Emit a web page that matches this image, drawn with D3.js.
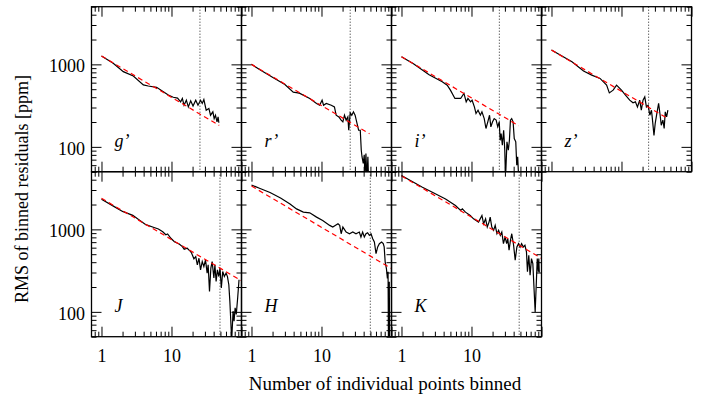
<!DOCTYPE html>
<meta charset="utf-8">
<body style="margin:0;background:#fff">
<svg id="chart" width="712" height="401"></svg>
<script src="https://cdn.jsdelivr.net/npm/d3@7/dist/d3.min.js"></script>
<script>

// panel labels (filters), top row then bottom row
var bandLabels = ["g’", "r’", "i’", "z’", "J", "H", "K"]

// [points binned, rms of binned residuals in ppm]
var gRms = [[1,1262],[1.47,1031],[2.05,816],[2.85,723],[3.96,563],[4.66,547],[6.13,527],[7.65,467],[9,425],[10.6,399],
  [12.2,390],[13.5,351],[14.3,386],[15.1,320],[16.3,368],[17.4,305],[18.8,361],[20.3,312],[22.2,368],[23.9,320],
  [26,368],[27.5,336],[29,375],[31.3,278],[34.2,292],[36.1,242],[39,266],[40.7,220],[42.5,242],[44.7,201],[46.3,231],[47.5,196]]
var rRms = [[1,1000],[1.32,860],[2.05,690],[3,570],[3.95,460],[4.6,452],[4.91,445],[6.8,386],[8.5,336],[9.4,320],
  [10.2,368],[10.7,320],[11.7,336],[13.8,320],[15.3,305],[16.2,242],[17.7,231],[19.1,211],[20.2,201],[21.3,242],
  [22.5,211],[23.8,231],[24.5,159],[25.7,258],[27.1,242],[28.6,266],[30.2,242],[31.8,201],[33.9,159],[35.8,159],
  [37,91],[37.9,76],[39.5,63],[40.8,80],[41.8,40],[43.1,83],[44.6,40],[46,76],[47,40]]
var iRms = [[1,1240],[1.5,1010],[2.48,750],[3.82,615],[4.5,560],[5,487],[5.8,386],[7,386],[7.8,445],[8.4,351],
  [8.9,386],[9.7,351],[10.2,368],[11,305],[11.6,254],[12.4,278],[13.4,242],[14.1,266],[15.2,220],[16.1,167],
  [17.1,201],[18.1,242],[18.9,175],[20,201],[21.1,220],[22.5,211],[23.7,175],[24.9,201],[25.7,120],[26.5,145],
  [27.6,105],[28.8,159],[29.9,91],[30.6,40],[32.1,115],[33.6,91],[34.8,120],[36,211],[37.5,220],[39.3,201],
  [40.8,126],[42.9,115],[44.3,60],[45.7,76],[47.3,40]]
var zRms = [[1,1492],[1.96,1076],[2.87,830],[3.76,741],[4.94,676],[6.13,560],[6.7,451],[7.6,487],[8.5,560],[10,487],
  [11.4,424],[13.1,368],[14.6,342],[15.8,351],[16.9,305],[18.2,368],[19.2,278],[20.3,368],[21.5,404],[22.7,305],
  [24,320],[25.4,242],[26.8,278],[27.6,220],[29.1,138],[30.3,192],[32,254],[33.9,336],[35.4,254],[37,183],
  [39,211],[40.7,167],[42.2,266],[44.1,231],[46,278]]
var jRms = [[1,2320],[1.5,1900],[2,1650],[2.8,1480],[3.5,1290],[4.3,1140],[5.5,1060],[6.5,1010],[7.5,935],[8.3,860],
  [8.8,880],[9.8,780],[11,709],[12.9,665],[14.3,617],[15.2,575],[16.8,590],[17.8,560],[18.8,537],[19.4,514],
  [20.9,440],[22.2,468],[23.4,372],[24.7,447],[26,323],[27.5,407],[29,354],[30.6,427],[32.3,295],[33.4,372],
  [34.9,177],[36.5,339],[38.1,407],[40.3,257],[41.7,372],[43.4,234],[45.3,323],[47.5,268],[49.3,339],[51.5,195],
  [53.9,308],[56.9,268],[60.2,295],[63,268],[65.9,213],[68.2,134],[70.7,70],[72.4,45],[75.8,102],[78.3,77],
  [81.1,112],[84.2,93],[88.2,148],[92.2,245]]
var hRms = [[1,3450],[1.3,3150],[1.84,2800],[2.6,2400],[3.55,2032],[4.4,1770],[5.5,1617],[6.8,1585],[8.5,1407],[10.4,1284],
  [13.1,1117],[14.5,1066],[17.2,1168],[18.2,1117],[19.1,885],[20.2,1066],[22.5,928],[25.1,885],[28,928],[31.1,885],
  [34.7,928],[36.6,808],[38.7,928],[40.9,808],[43.2,885],[45.6,910],[48.3,847],[51,885],[53.9,770],[56.9,703],
  [60.1,508],[63.5,612],[67.1,671],[72.2,703],[76.2,671],[78.6,612],[81.2,404],[84.6,335],[87.4,254],[89.3,306],
  [90.5,40],[91.3,121],[92,40],[93,232],[94,40]]
var kRms = [[1,4500],[1.99,3236],[2.76,2812],[4.26,2336],[5.9,1946],[7,1694],[7.4,1771],[8.2,1617],[9.6,1474],[10.7,1341],
  [12.6,1224],[14.1,1474],[14.9,1168],[15.9,1341],[16.8,1066],[17.8,1224],[18.5,1407],[19.5,1066],[20.7,973],[21.8,1117],
  [23.1,885],[24.4,973],[25.8,847],[27.1,928],[28.6,671],[30.2,808],[31.8,671],[33,770],[34.4,558],[36,737],
  [37.6,885],[39.9,647],[42.1,423],[44.5,612],[47,671],[49.5,612],[52,671],[55,612],[58,641],[61,533],
  [63,306],[65.8,486],[68.7,279],[71.9,442],[75.2,385],[78.6,176],[81.2,100],[84.1,212],[87,442],[90,306],
  [91.5,442],[93,300]]

// white-noise expectation (red dashed), start and end points
var fitLines = [
  [[1,1262],[48,182]],
  [[1,1000],[48.5,144]],
  [[1,1240],[47.5,180]],
  [[1,1490],[46,220]],
  [[1,2380],[100,238]],
  [[1,3350],[100,335]],
  [[1,4450],[100,445]]
]

// dotted vertical line (bin size limit)
var binLimits = [25.5, 25.7, 25, 24.4, 49.3, 49.8, 48]

var xTickLabels = [1, 10]
var yTickLabels = [100, 1000]

var rmsSets = [gRms, rRms, iRms, zRms, jRms, hRms, kRms]

var padLeft = 91.5, padTop = 6.7, pw = 150, ph = 165
var font = '"Liberation Serif", "Times New Roman", Times, serif'

var svg = d3.select('#chart')

var x = d3.scaleLog().domain([0.72, 100]).range([0, pw])
var y = d3.scaleLog().domain([50, 5000]).range([ph, 0])

function isMajor(t) {
  var l = Math.log10(t)
  return Math.abs(l - Math.round(l)) < 1e-6
}
var xMajor = x.ticks().filter(isMajor), xMinor = x.ticks().filter(function (t) { return !isMajor(t) })
var yMajor = y.ticks().filter(isMajor), yMinor = y.ticks().filter(function (t) { return !isMajor(t) })

var line = d3.line()
  .x(function (d) { return x(d[0]) })
  .y(function (d) { return y(d[1]) })

// draws inward ticks on one side, minor then major
function ticks(g, axisFn, scale, minor, major, fmt) {
  g.append('g').call(axisFn(scale).tickValues(minor).tickSizeInner(-5).tickSizeOuter(0).tickFormat(''))
  var a = g.append('g').call(axisFn(scale).tickValues(major).tickSizeInner(-10).tickSizeOuter(0)
    .tickPadding(axisFn === d3.axisBottom ? 12.5 : 6.5)
    .tickFormat(fmt || ''))
  g.selectAll('.domain').remove()
  g.selectAll('line').attr('stroke', '#000').attr('stroke-width', 1)
  a.attr('font-family', font).attr('font-size', 18)
  a.selectAll('text').attr('fill', '#000')
  if (axisFn === d3.axisLeft) a.selectAll('text').attr('dy', '0.4em')
}

rmsSets.forEach(function (data, i) {
  var row = i < 4 ? 0 : 1
  var col = i < 4 ? i : i - 4
  var g = svg.append('g').attr('transform', 'translate(' + (padLeft + col * pw) + ',' + (padTop + row * ph) + ')')

  g.append('clipPath').attr('id', 'clip' + i)
    .append('rect').attr('width', pw).attr('height', ph)

  var plot = g.append('g').attr('clip-path', 'url(#clip' + i + ')')

  plot.append('line')
    .attr('x1', x(binLimits[i])).attr('x2', x(binLimits[i]))
    .attr('y1', 0).attr('y2', ph)
    .attr('stroke', '#222').attr('stroke-width', 1).attr('stroke-dasharray', '1,2')

  plot.append('path').datum(data)
    .attr('d', line)
    .attr('fill', 'none').attr('stroke', '#000').attr('stroke-width', 1.2)

  plot.append('path').datum(fitLines[i])
    .attr('d', line)
    .attr('fill', 'none').attr('stroke', '#f00').attr('stroke-width', 1.2)
    .attr('stroke-dasharray', '5,3.5')

  var labelX = row === 1 ? function (d) { return xTickLabels.indexOf(d) > -1 ? d : '' } : null
  var labelY = col === 0 ? function (d) { return yTickLabels.indexOf(d) > -1 ? d : '' } : null

  ticks(g.append('g').attr('transform', 'translate(0,' + ph + ')'), d3.axisBottom, x, xMinor, xMajor, labelX)
  ticks(g.append('g'), d3.axisTop, x, xMinor, xMajor, null)
  ticks(g.append('g'), d3.axisLeft, y, yMinor, yMajor, labelY)
  ticks(g.append('g').attr('transform', 'translate(' + pw + ',0)'), d3.axisRight, y, yMinor, yMajor, null)

  g.append('rect').attr('width', pw).attr('height', ph)
    .attr('fill', 'none').attr('stroke', '#000').attr('stroke-width', 1.3)

  g.append('text')
    .attr('x', 23).attr('y', 140)
    .attr('font-family', font).attr('font-size', 18).attr('font-style', 'italic')
    .text(bandLabels[i])
})

svg.append('text')
  .attr('x', 385).attr('y', 390)
  .attr('text-anchor', 'middle')
  .attr('font-family', font).attr('font-size', 19)
  .text('Number of individual points binned')

svg.append('text')
  .attr('transform', 'translate(28,189) rotate(-90)')
  .attr('text-anchor', 'middle')
  .attr('font-family', font).attr('font-size', 18)
  .text('RMS of binned residuals [ppm]')

</script>
